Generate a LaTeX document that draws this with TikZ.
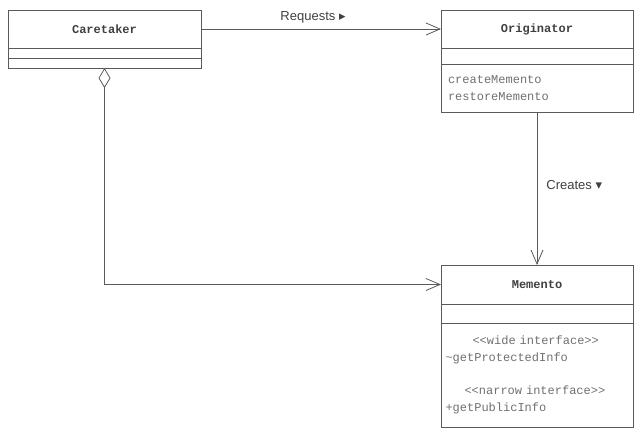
\documentclass[tikz,border=0pt]{standalone}
\usepackage{fontspec}
\setsansfont{Liberation Sans}
\setmonofont{Liberation Mono}
\newfontfamily\symfont{DejaVu Sans}
\usetikzlibrary{positioning,arrows.meta}
\definecolor{umlline}{HTML}{5A5A5A}
\definecolor{umltext}{HTML}{707070}
\begin{document}
\begin{tikzpicture}[x=1pt,y=-1pt,
        box/.style={draw=umlline, line width=0.8pt, rectangle, outer sep=0pt, inner sep=0pt},
        title/.style={box, font=\ttfamily\bfseries\fontsize{12}{14}\selectfont, text=black!75},
        body/.style={box, align=left, font=\ttfamily\fontsize{12}{17}\selectfont, text=umltext},
        assoc/.style={draw=umlline, line width=0.8pt, -{Straight Barb[length=14pt,width=12pt]}},
        agg/.style={draw=umlline, line width=0.8pt, {Diamond[open,length=20pt,width=12pt,fill=white]}-{Straight Barb[length=14pt,width=12pt]}},
        lbl/.style={font=\sffamily\fontsize{13}{15}\selectfont, text=black!75, inner sep=1pt}]
    \useasboundingbox (0,0) rectangle (643,437);
    % Caretaker
    \node[title, minimum width=193pt, minimum height=38pt] (caretaker) at (104.5,29) {Caretaker};
    \node[body, minimum width=193pt, minimum height=10pt, below=0pt of caretaker] (caretakerAttr) {};
    \node[body, minimum width=193pt, minimum height=10pt, below=0pt of caretakerAttr] (caretakerOps) {};
    % Originator
    \node[title, minimum width=192pt, minimum height=38pt] (originator) at (537,29) {Originator};
    \node[body, minimum width=192pt, minimum height=16pt, below=0pt of originator] (originatorAttr) {};
    \node[body, minimum width=192pt, minimum height=48pt, text width=178pt, below=0pt of originatorAttr] (originatorOps)
        {createMemento\\restoreMemento};
    % Memento
    \node[title, minimum width=192pt, minimum height=39pt] (memento) at (537,284.5) {Memento};
    \node[body, minimum width=192pt, minimum height=19pt, below=0pt of memento] (mementoAttr) {};
    \node[body, minimum width=192pt, minimum height=104pt, text width=183pt, below=0pt of mementoAttr] (mementoOps)
        {\hspace*{27pt}<<wide interface>>\\\textasciitilde getProtectedInfo\\[16pt]%
         \hspace*{19pt}<<narrow interface>>\\+getPublicInfo};
    % relations
    \draw[assoc] (caretaker.east) -- node[lbl, above=4pt, xshift=-8pt] (requestsLbl)
        {Requests {\symfont\fontsize{13}{13}\selectfont ▸}} (originator.west);
    \draw[assoc] (originatorOps.south) -- node[lbl, right=8pt, pos=0.48] (createsLbl)
        {Creates {\symfont\fontsize{13}{13}\selectfont ▾}} (memento.north);
    \draw[agg] (caretakerOps.south) |- (memento.west);
\end{tikzpicture}
\end{document}
